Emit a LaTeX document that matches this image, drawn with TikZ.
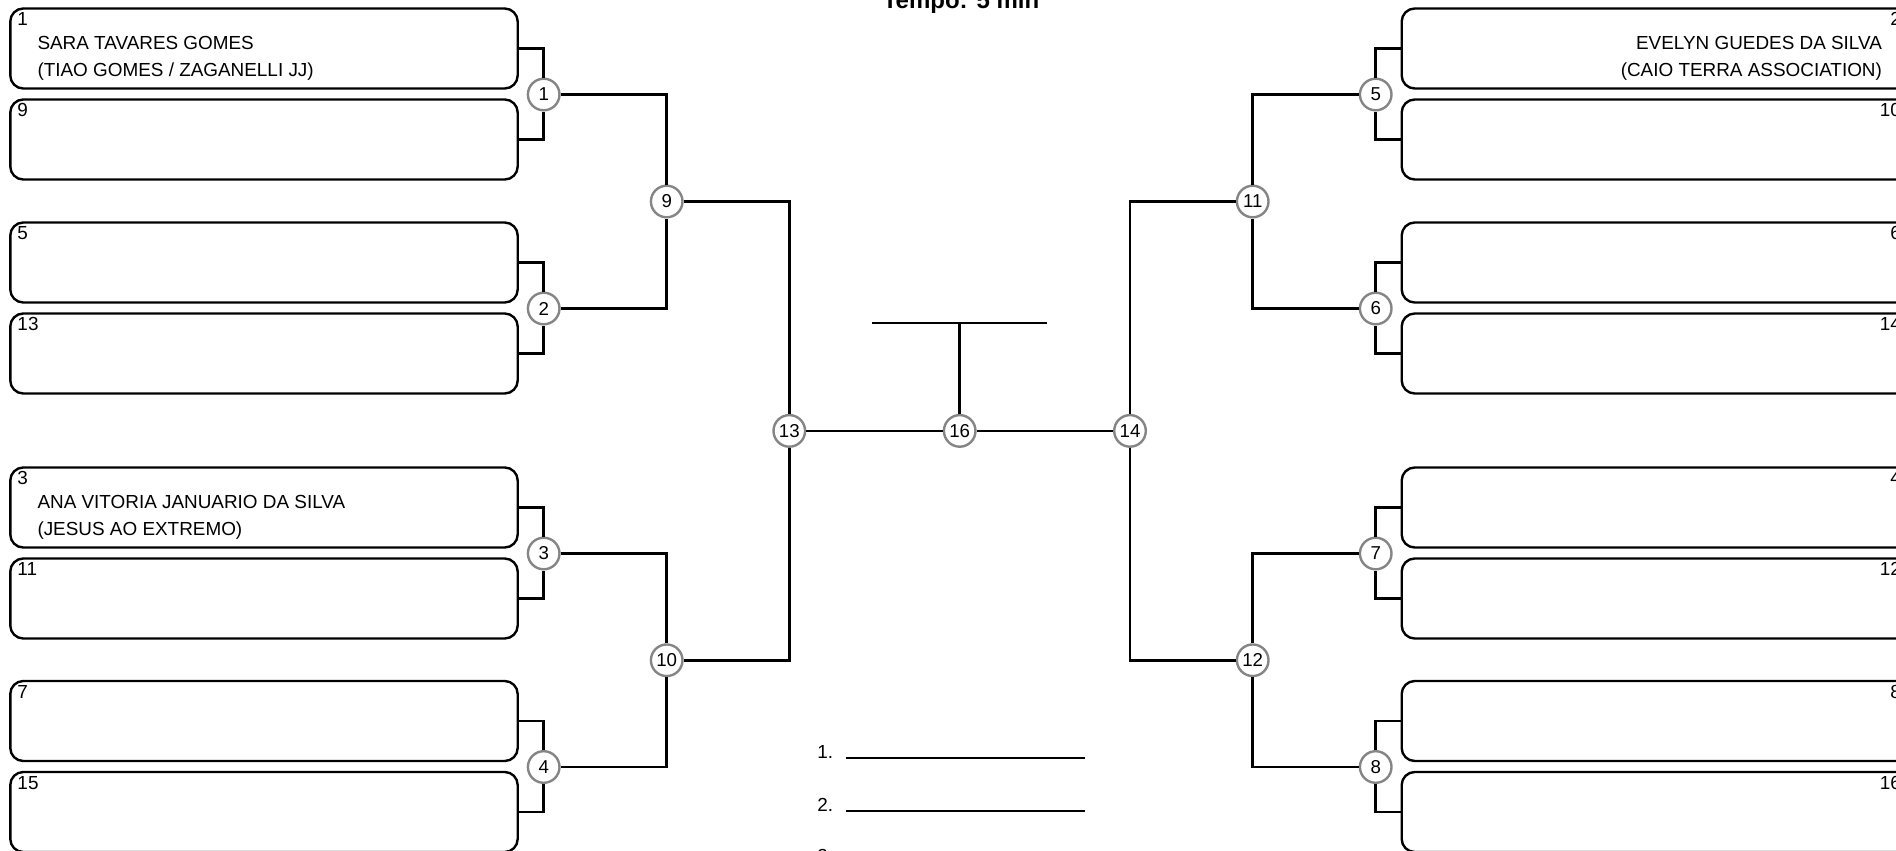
\documentclass[tikz,border=0pt]{standalone}
\usepackage{fontspec}
\setmainfont{Liberation Sans}
\usetikzlibrary{calc}
\tikzset{
  pbox/.style={draw=black, line width=1.2pt, rounded corners=6.5pt, minimum width=253.7pt, minimum height=40pt, inner sep=0pt, fill=white},
  mcirc/.style={circle, draw=black!48, line width=1.2pt, fill=white, minimum size=15.8pt, inner sep=0pt, font=\fontsize{9.33pt}{11pt}\selectfont},
  lbl/.style={inner sep=0pt, font=\fontsize{9.45pt}{11pt}\selectfont},
  conn/.style={line width=1.25pt, draw=black},
  wline/.style={line width=1.45pt, draw=black},
}
\begin{document}
\begin{tikzpicture}[x=0.5pt,y=-0.5pt]
\useasboundingbox (0,0) rectangle (1896,851);

% title
\node[inner sep=0pt, anchor=base, font=\bfseries\fontsize{12pt}{14pt}\selectfont] (title) at (961,9) {Tempo: 5 min};

% left side
\foreach \t/\a/\b/\c in {8.5/1/9/1, 222.5/5/13/2, 467.5/3/11/3, 681/7/15/4} {
  \node[pbox] (s\a) at (264,\t+40) {};
  \node[pbox] (s\b) at (264,\t+131) {};
  \node[mcirc] (m\c) at (543.7,\t+86) {\c};
  \node[lbl, anchor=base west] (n\a) at ($(s\a.north west)+(8,18.5)$) {\a};
  \node[lbl, anchor=base west] (n\b) at ($(s\b.north west)+(8,18.5)$) {\b};
  \draw[conn] (s\a.east) -| (m\c);
  \draw[conn] (s\b.east) -| (m\c);
}
% right side
\foreach \t/\a/\b/\c in {8.5/2/10/5, 222.5/6/14/6, 467.5/4/12/7, 681/8/16/8} {
  \node[pbox] (s\a) at (1655.4,\t+40) {};
  \node[pbox] (s\b) at (1655.4,\t+131) {};
  \node[mcirc] (m\c) at (1375.7,\t+86) {\c};
  \node[lbl, anchor=base east] (n\a) at ($(s\a.north east)+(-9,18.5)$) {\a};
  \node[lbl, anchor=base east] (n\b) at ($(s\b.north east)+(-9,18.5)$) {\b};
  \draw[conn] (s\a.west) -| (m\c);
  \draw[conn] (s\b.west) -| (m\c);
}

% competitor names
\node[lbl, anchor=base west] (p1a) at ($(s1.north west)+(28,42.5)$) {SARA TAVARES GOMES};
\node[lbl, anchor=base west] (p1b) at ($(s1.north west)+(28,69)$) {(TIAO GOMES / ZAGANELLI JJ)};
\node[lbl, anchor=base west] (p3a) at ($(s3.north west)+(28,42.5)$) {ANA VITORIA JANUARIO DA SILVA};
\node[lbl, anchor=base west] (p3b) at ($(s3.north west)+(28,69)$) {(JESUS AO EXTREMO)};
\node[lbl, anchor=base east] (p2a) at ($(s2.north east)+(-28,42.5)$) {EVELYN GUEDES DA SILVA};
\node[lbl, anchor=base east] (p2b) at ($(s2.north east)+(-28,69)$) {(CAIO TERRA ASSOCIATION)};

% later rounds
\node[mcirc] (m9) at (666.7,201.5) {9};
\node[mcirc] (m10) at (666.7,660.25) {10};
\node[mcirc] (m13) at (789.3,430.9) {13};
\node[mcirc] (m16) at (959.7,430.9) {16};
\node[mcirc] (m14) at (1130,430.9) {14};
\node[mcirc] (m11) at (1252.7,201.5) {11};
\node[mcirc] (m12) at (1252.7,660.25) {12};

\draw[conn] (m1) -| (m9);
\draw[conn] (m2) -| (m9);
\draw[conn] (m3) -| (m10);
\draw[conn] (m4) -| (m10);
\draw[conn] (m9) -| (m13);
\draw[conn] (m10) -| (m13);
\draw[conn] (m5) -| (m11);
\draw[conn] (m6) -| (m11);
\draw[conn] (m7) -| (m12);
\draw[conn] (m8) -| (m12);
\draw[conn] (m11) -| (m14);
\draw[conn] (m12) -| (m14);
\draw[conn] (m13) -- (m16);
\draw[conn] (m16) -- (m14);

% podium T
\coordinate (tl) at (872,323);
\coordinate (tr) at (1047,323);
\coordinate (tm) at (959.7,323);
\draw[conn] (tl) -- (tr);
\draw[conn] (m16) -- (tm);

% winner lines
\node[lbl, anchor=base west] (w1) at (817,758) {1.};
\node[lbl, anchor=base west] (w2) at (817,811) {2.};
\node[lbl, anchor=base west] (w3) at (817,862.5) {3.};
\coordinate (w1s) at (846,758); \coordinate (w1e) at (1085,758);
\coordinate (w2s) at (846,811); \coordinate (w2e) at (1085,811);
\coordinate (w3s) at (846,864); \coordinate (w3e) at (1085,864);
\draw[wline] (w1s) -- (w1e);
\draw[wline] (w2s) -- (w2e);
\draw[wline] (w3s) -- (w3e);
\end{tikzpicture}
\end{document}
